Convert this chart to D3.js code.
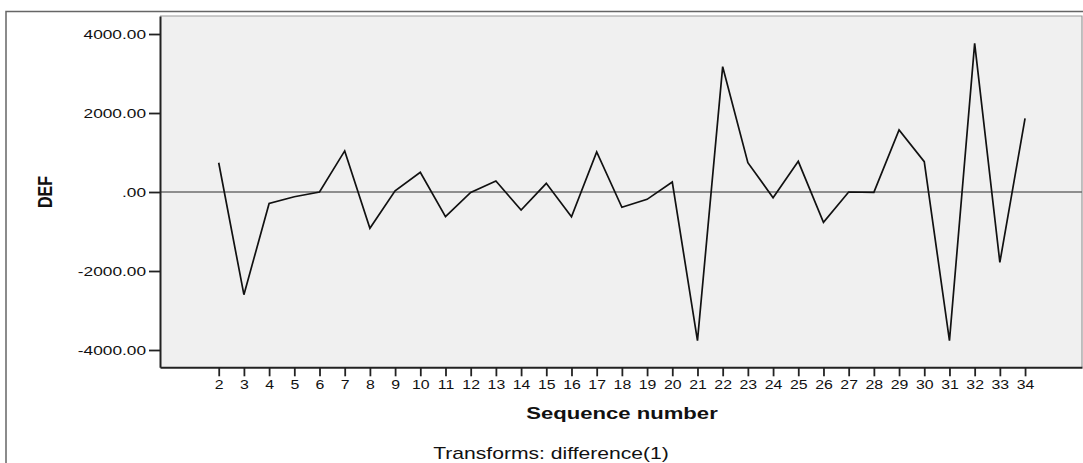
<!DOCTYPE html>
<html>
<head>
<meta charset="utf-8">
<script src="https://cdn.jsdelivr.net/npm/d3@7"></script>
<style>
  html, body { margin: 0; padding: 0; background: #ffffff; }
  svg { display: block; }
  text { font-family: "Liberation Sans", Arial, sans-serif; fill: #111; }
</style>
</head>
<body>
<svg id="chart" width="1083" height="463"></svg>
<script>
// ---- data ----
const sequence = [2,3,4,5,6,7,8,9,10,11,12,13,14,15,16,17,18,19,20,21,22,23,24,25,26,27,28,29,30,31,32,33,34];
const defValues = [740,-2600,-290,-120,0,1040,-920,30,500,-625,-10,278,-456,220,-625,1013,-388,-186,253,-3764,3173,742,-143,776,-768,0,-10,1570,768,-3764,3764,-1781,1865];
const yTicks = [-4000,-2000,0,2000,4000];
const xLabel = "Sequence number";
const yLabel = "DEF";
const footnote = "Transforms: difference(1)";

const svg = d3.select("#chart");
const plot = {left: 160, top: 16, right: 1082, bottom: 367.3};

const x = d3.scaleLinear().domain([-0.33, 36.26]).range([plot.left, plot.right]);
const y = d3.scaleLinear().domain([-4438, 4456]).range([plot.bottom, plot.top]);

// outer frame
svg.append("rect")
  .attr("x", 6).attr("y", 11.5).attr("width", 1100).attr("height", 500)
  .attr("fill", "none").attr("stroke", "#666").attr("stroke-width", 1.5);

// plot background
svg.append("rect")
  .attr("x", plot.left).attr("y", plot.top)
  .attr("width", plot.right - plot.left).attr("height", plot.bottom - plot.top)
  .attr("fill", "#f0f0f0");

// top/right border (lighter)
svg.append("path")
  .attr("d", `M${plot.left},${plot.top}H${plot.right}V${plot.bottom}`)
  .attr("fill", "none").attr("stroke", "#9a9a9a").attr("stroke-width", 1.2);

// zero reference line
svg.append("line")
  .attr("x1", plot.left).attr("x2", plot.right)
  .attr("y1", y(0)).attr("y2", y(0))
  .attr("stroke", "#6e6e6e").attr("stroke-width", 1.5);

// data line
const line = d3.line().x((d, i) => x(sequence[i])).y(d => y(d));
svg.append("path")
  .datum(defValues)
  .attr("d", line)
  .attr("fill", "none").attr("stroke", "#111").attr("stroke-width", 1.7)
  .attr("stroke-linejoin", "miter");

// y axis
const fmt = v => {
  if (v === 0) return ".00";
  return (v < 0 ? "-" : "") + Math.abs(v).toFixed(2);
};
const yAxis = d3.axisLeft(y).tickValues(yTicks).tickSizeInner(11).tickSizeOuter(0).tickPadding(0).tickFormat(fmt);
const gy = svg.append("g").attr("transform", `translate(${plot.left},0)`).call(yAxis);
gy.select(".domain").attr("stroke", "#222").attr("stroke-width", 2);
gy.selectAll(".tick line").attr("stroke", "#222").attr("stroke-width", 1.8);
gy.selectAll(".tick text")
  .attr("x", null).attr("dy", null)
  .attr("font-size", 13).attr("fill", "#111")
  .attr("text-anchor", "end")
  .attr("transform", "translate(-14,4.6) scale(1.33,1)");

// x axis
const xAxis = d3.axisBottom(x).tickValues(sequence).tickSizeInner(9).tickSizeOuter(0).tickPadding(0).tickFormat(d3.format("d"));
const gx = svg.append("g").attr("transform", `translate(0,${plot.bottom})`).call(xAxis);
gx.select(".domain").attr("stroke", "#222").attr("stroke-width", 2);
gx.selectAll(".tick line").attr("stroke", "#222").attr("stroke-width", 1.8);
gx.selectAll(".tick text")
  .attr("y", null).attr("dy", null)
  .attr("font-size", 13).attr("fill", "#111")
  .attr("text-anchor", "middle")
  .attr("transform", "translate(0,21.7) scale(1.22,1)");

// axis titles
svg.append("text")
  .attr("transform", "translate(622,419) scale(1.3,1)")
  .attr("text-anchor", "middle")
  .attr("font-size", 17).attr("font-weight", "bold")
  .text(xLabel);

svg.append("text")
  .attr("transform", "translate(52,192) scale(1.25,1) rotate(-90)")
  .attr("text-anchor", "middle")
  .attr("font-size", 16).attr("font-weight", "bold")
  .text(yLabel);

svg.append("text")
  .attr("transform", "translate(551,458.5) scale(1.32,1)")
  .attr("text-anchor", "middle")
  .attr("font-size", 16)
  .text(footnote);
</script>
</body>
</html>
